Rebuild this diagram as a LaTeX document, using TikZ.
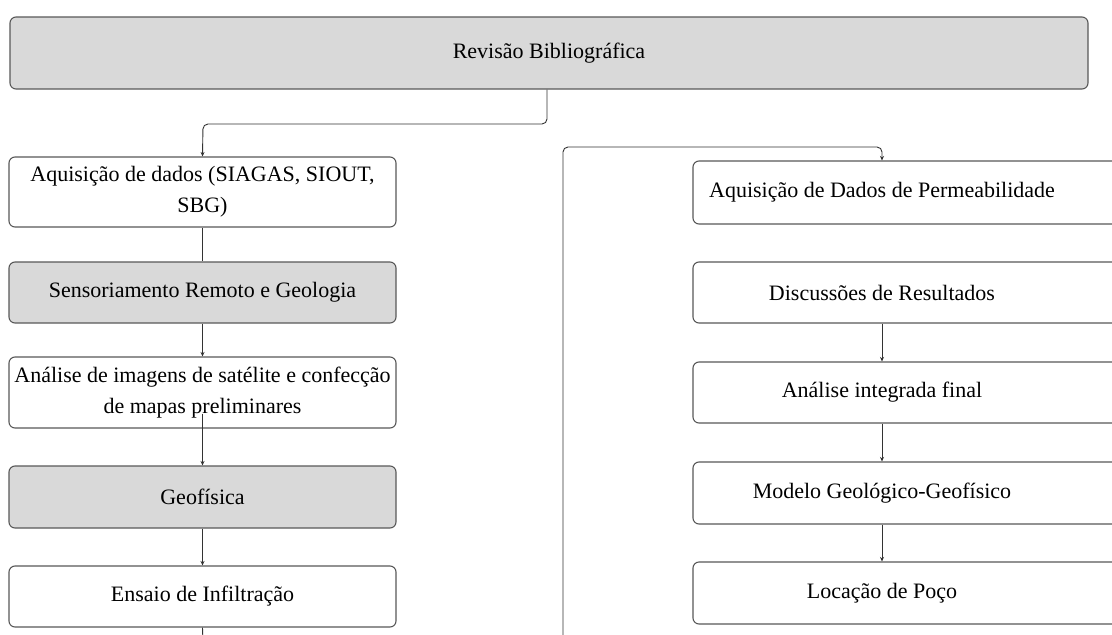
\documentclass[tikz,border=0pt]{standalone}
\usepackage{fontspec}
\setmainfont{Liberation Serif}
\usetikzlibrary{arrows.meta}
\begin{document}
\begin{tikzpicture}[x=1pt,y=-1pt,
  box/.style={draw=black!65,line width=1.1pt,rounded corners=6pt,fill=white,
    minimum height=#1,minimum width=387pt,inner sep=0pt,align=center,
    font=\fontsize{22}{31}\selectfont},
  gbox/.style={box=#1,fill=black!15},
  rbox/.style={draw=black!65,line width=1.1pt,rounded corners=6pt,fill=white,
    minimum height=#1,minimum width=447pt,inner sep=0pt},
  lbl/.style={inner sep=0pt,font=\fontsize{22}{31}\selectfont},
  conn/.style={draw=black!80,line width=0.9pt,rounded corners=5pt},
  arr/.style={conn,-{Stealth[length=4.5pt,width=4pt]}}]
\clip (0,0) rectangle (1112,635);
\fill[white] (0,0) rectangle (1112,635);
% top
\node[gbox=72pt,minimum width=1078pt] (top) at (549,53) {Revisão Bibliográfica};
% left column
\node[box=70pt] (b1) at (202.5,192) {Aquisição de dados (SIAGAS, SIOUT,\\ SBG)};
\node[gbox=61pt] (b2) at (202.5,292.5) {Sensoriamento Remoto e Geologia};
\node[box=71pt] (b3) at (202.5,392.5) {Análise de imagens de satélite e confecção\\ de mapas preliminares};
\node[gbox=62pt] (b4) at (202.5,497) {Geofísica};
\node[box=61pt] (b5) at (202.5,596.5) {Ensaio de Infiltração};
% right column boxes
\node[rbox=63pt] (r1) at (916.5,192.5) {};
\node[rbox=61pt] (r2) at (916.5,292.5) {};
\node[rbox=61pt] (r3) at (916.5,392.5) {};
\node[rbox=62pt] (r4) at (916.5,493) {};
\node[rbox=62pt] (r5) at (916.5,593) {};
\node[lbl] (t1) at (882,192.5) {Aquisição de Dados de Permeabilidade};
\node[lbl] (t2) at (882,292.5) {Discussões de Resultados};
\node[lbl] (t3) at (882,392.5) {Análise integrada final};
\node[lbl] (t4) at (882,493) {Modelo Geológico-Geofísico};
\node[lbl] (t5) at (882,593) {Locação de Poço};
% free ends
\coordinate (lend) at (203,645);
\coordinate (rstart) at (563,645);
% connectors
\draw[arr] (top.south -| 547,0) -- (547,124) -- (203,124) -- (b1.north);
\draw[conn] (b1.south) -- (b2.north);
\draw[arr] (b2.south) -- (b3.north);
\draw[arr] ([yshift=-21pt]b3.center) -- (b4.north);
\draw[arr] (b4.south) -- (b5.north);
\draw[conn] (b5.south) -- (lend);
\draw[arr] (rstart) -- (563,147) -- (882,147) -- (t1 |- r1.north);
\draw[arr] (t2 |- r2.south) -- (t3 |- r3.north);
\draw[arr] (t3 |- r3.south) -- (t4 |- r4.north);
\draw[arr] (t4 |- r4.south) -- (t5 |- r5.north);
\end{tikzpicture}
\end{document}
